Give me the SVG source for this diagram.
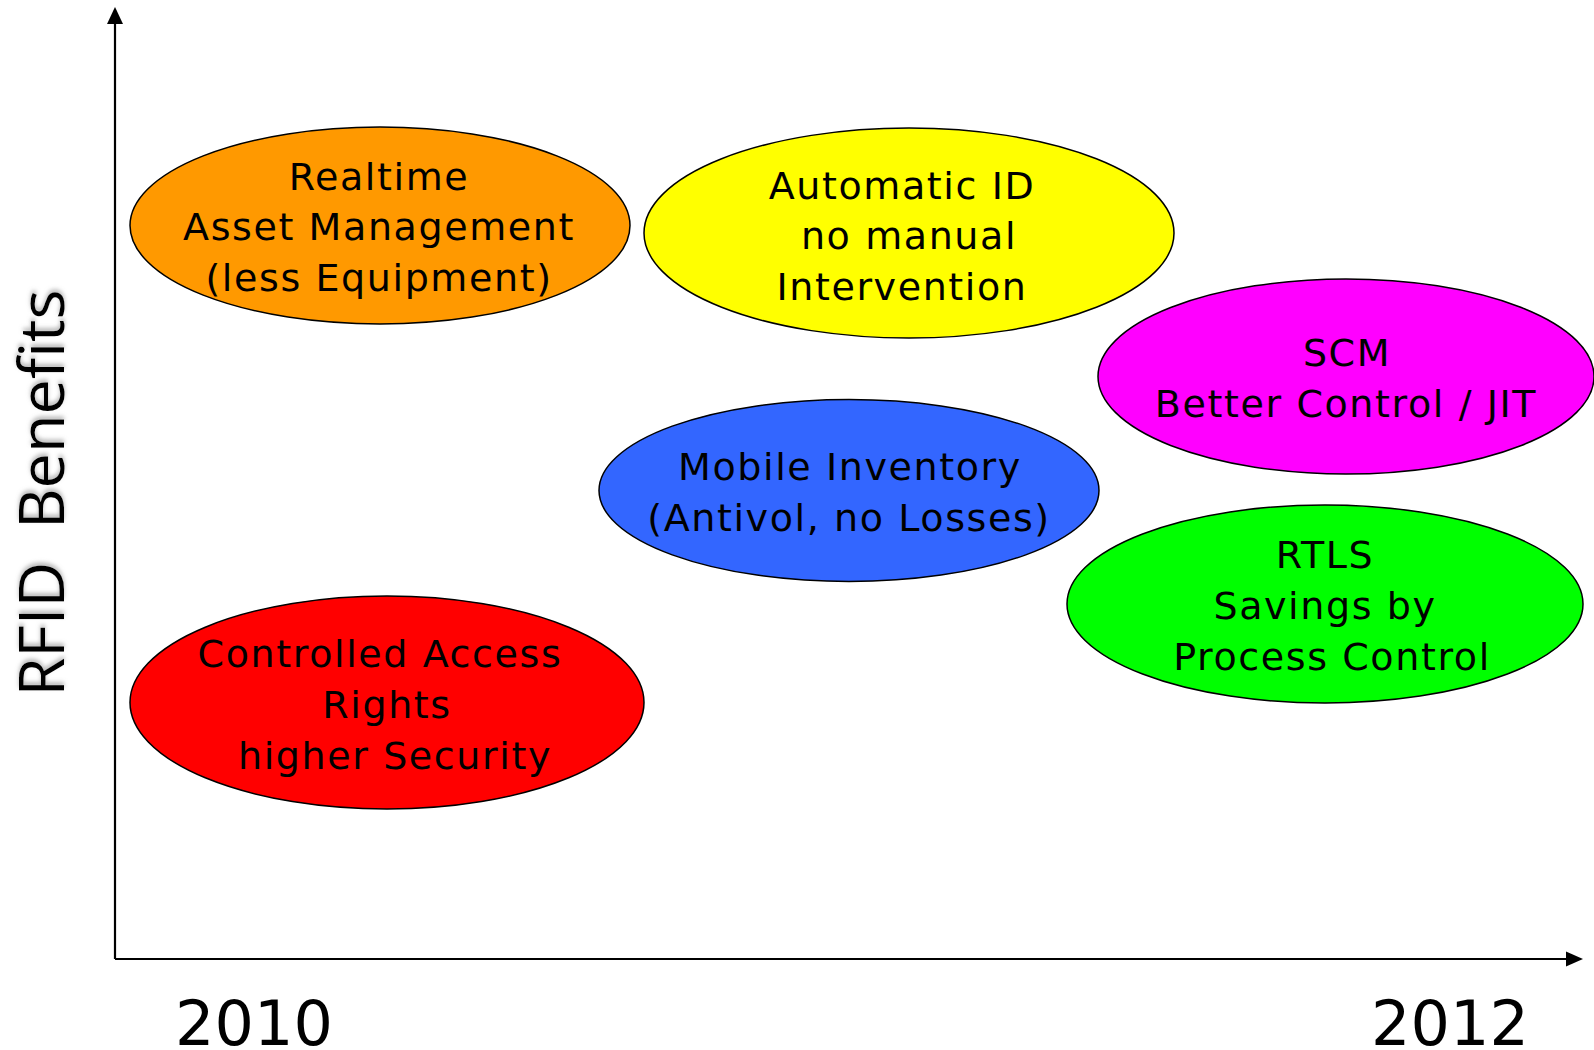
<svg xmlns="http://www.w3.org/2000/svg" width="1594" height="1050" viewBox="0 0 1594 1050">
<style>
.node ellipse{stroke:#000;stroke-width:1.5}
.lbl{font-family:"DejaVu Sans","Liberation Sans",sans-serif;font-size:38px;fill:#000;text-anchor:middle;letter-spacing:1.6px}
.axis{stroke:#000;stroke-width:2.2;fill:none}
.year{font-family:"DejaVu Sans","Liberation Sans",sans-serif;font-size:62px;fill:#000;text-anchor:middle}
</style>
<defs>
<filter id="sh" x="-20%" y="-20%" width="140%" height="140%">
<feDropShadow dx="3" dy="0" stdDeviation="2" flood-color="#888" flood-opacity="0.6"/>
</filter>
</defs>
<g id="connectors">
<path class="axis" d="M115,959 L115,10"/>
<path d="M107,24 L115,7 L123,24 z" fill="#000"/>
<path class="axis" d="M115,959 L1566,959"/>
<path d="M1566,951.5 L1583,959 L1566,966.5 z" fill="#000"/>
</g>
<text id="ylabel" transform="translate(64,493) rotate(-90)" font-family="Open Sans, DejaVu Sans, sans-serif" font-size="63" text-anchor="middle" fill="#000" filter="url(#sh)" xml:space="preserve">RFID  Benefits</text>
<text class="year" x="254" y="1045">2010</text>
<text class="year" x="1450" y="1045">2012</text>
<g id="n-realtime" class="node">
<ellipse cx="380" cy="225.5" rx="250" ry="98.5" fill="#ff9900"/>
<text class="lbl" x="379" y="190">Realtime</text>
<text class="lbl" x="379" y="240">Asset Management</text>
<text class="lbl" x="379" y="291">(less Equipment)</text>
</g>
<g id="n-autoid" class="node">
<ellipse cx="909" cy="233" rx="265" ry="105" fill="#ffff00"/>
<text class="lbl" x="902" y="199">Automatic ID</text>
<text class="lbl" x="909" y="249">no manual</text>
<text class="lbl" x="902" y="300">Intervention</text>
</g>
<g id="n-scm" class="node">
<ellipse cx="1346" cy="376.5" rx="248" ry="97.5" fill="#ff00ff"/>
<text class="lbl" x="1347" y="366">SCM</text>
<text class="lbl" x="1346" y="417">Better Control / JIT</text>
</g>
<g id="n-mobile" class="node">
<ellipse cx="849" cy="490.5" rx="250" ry="91" fill="#3366ff"/>
<text class="lbl" x="850" y="480">Mobile Inventory</text>
<text class="lbl" x="849" y="531">(Antivol, no Losses)</text>
</g>
<g id="n-rtls" class="node">
<ellipse cx="1325" cy="604" rx="258" ry="99" fill="#00ff00"/>
<text class="lbl" x="1325" y="568">RTLS</text>
<text class="lbl" x="1325" y="619">Savings by</text>
<text class="lbl" x="1332" y="670">Process Control</text>
</g>
<g id="n-access" class="node">
<ellipse cx="387" cy="702.5" rx="257" ry="106.5" fill="#ff0000"/>
<text class="lbl" x="380" y="667">Controlled Access</text>
<text class="lbl" x="387" y="718">Rights</text>
<text class="lbl" x="395" y="769">higher Security</text>
</g>
</svg>
